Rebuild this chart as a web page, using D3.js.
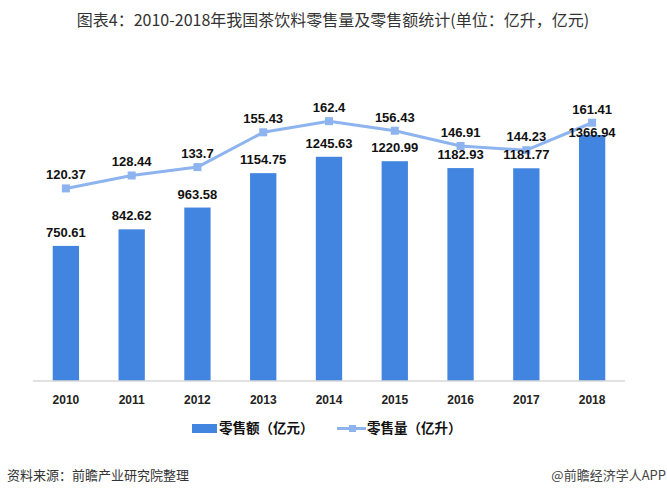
<!DOCTYPE html>
<html>
<head>
<meta charset="utf-8">
<script src="https://cdn.jsdelivr.net/npm/d3@7"></script>
<style>
  html, body { margin: 0; padding: 0; background: #fff; }
  svg { display: block; }
</style>
</head>
<body>
<svg id="chart" width="667" height="496"></svg>
<script>
const years = ["2010","2011","2012","2013","2014","2015","2016","2017","2018"];
const salesValue = [750.61, 842.62, 963.58, 1154.75, 1245.63, 1220.99, 1182.93, 1181.77, 1366.94]; // 零售额（亿元）
const salesVolume = [120.37, 128.44, 133.7, 155.43, 162.4, 156.43, 146.91, 144.23, 161.41]; // 零售量（亿升）
const titleText = "图表4：2010-2018年我国茶饮料零售量及零售额统计(单位：亿升，亿元)";
const legendLabels = ["零售额（亿元）", "零售量（亿升）"];
const sourceText = "资料来源：前瞻产业研究院整理";
const brandText = "@前瞻经济学人APP";

(function () {
const plotL = 33, plotR = 625, plotT = 93, plotB = 381;
const barColor = "#4285e0";
const lineColor = "#8db4ee";
const cjk = "'Microsoft YaHei','Noto Sans CJK SC','Noto Sans',sans-serif";
const num = "Arial,'Liberation Sans',sans-serif";

const svg = d3.select("#chart");

const x = d3.scaleBand().domain(years).range([plotL, plotR]).paddingInner(0.6).paddingOuter(0.3);
const y = d3.scaleLinear().domain([0, 1600]).range([plotB, plotT]);
const y2 = d3.scaleLinear().domain([0, 180]).range([plotB, plotT]);

// title
svg.append("text")
  .attr("x", 333).attr("y", 26)
  .attr("text-anchor", "middle")
  .attr("font-family", cjk).attr("font-size", 16)
  .attr("fill", "#333")
  .text(titleText);

// bars
svg.append("g").selectAll("rect").data(salesValue).join("rect")
  .attr("x", (d, i) => x(years[i]))
  .attr("y", d => y(d))
  .attr("width", x.bandwidth())
  .attr("height", d => plotB - y(d))
  .attr("fill", barColor);

// x axis
const xAxis = svg.append("g").attr("transform", `translate(0,${plotB})`)
  .call(d3.axisBottom(x).tickSize(0).tickPadding(14));
xAxis.select(".domain").attr("stroke", "#d9d9d9").attr("stroke-width", 1.3)
  .attr("d", `M${plotL},0H${plotR}`);
xAxis.selectAll("text")
  .attr("font-family", num).attr("font-size", 12).attr("font-weight", "bold")
  .attr("fill", "#222");

// line
const line = d3.line()
  .x((d, i) => x(years[i]) + x.bandwidth() / 2)
  .y(d => y2(d));
svg.append("path").datum(salesVolume)
  .attr("d", line)
  .attr("fill", "none")
  .attr("stroke", lineColor)
  .attr("stroke-width", 3)
  .attr("stroke-linejoin", "round");

svg.append("g").selectAll("rect").data(salesVolume).join("rect")
  .attr("x", (d, i) => x(years[i]) + x.bandwidth() / 2 - 4)
  .attr("y", d => y2(d) - 4)
  .attr("width", 8).attr("height", 8)
  .attr("fill", lineColor);

// bar labels
svg.append("g").selectAll("text").data(salesValue).join("text")
  .attr("x", (d, i) => x(years[i]) + x.bandwidth() / 2)
  .attr("y", (d, i) => {
    let cy = y(d) - 14;
    if (cy < y2(salesVolume[i]) + 2) cy = y(d) - 3;
    return cy + 5;
  })
  .attr("text-anchor", "middle")
  .attr("font-family", num).attr("font-size", 13).attr("font-weight", "bold")
  .attr("fill", "#111")
  .text(d => d);

// line labels
svg.append("g").selectAll("text").data(salesVolume).join("text")
  .attr("x", (d, i) => x(years[i]) + x.bandwidth() / 2)
  .attr("y", d => y2(d) - 14 + 5)
  .attr("text-anchor", "middle")
  .attr("font-family", num).attr("font-size", 13).attr("font-weight", "bold")
  .attr("fill", "#111")
  .text(d => d);

// legend
const lg = svg.append("g");
lg.append("rect").attr("x", 192).attr("y", 424).attr("width", 25).attr("height", 9).attr("fill", barColor);
lg.append("text").attr("x", 219).attr("y", 433)
  .attr("font-family", cjk).attr("font-size", 13.5).attr("font-weight", "bold").attr("fill", "#111")
  .text(legendLabels[0]);
lg.append("line").attr("x1", 337).attr("x2", 366).attr("y1", 428.5).attr("y2", 428.5)
  .attr("stroke", lineColor).attr("stroke-width", 3);
lg.append("rect").attr("x", 349).attr("y", 425).attr("width", 7).attr("height", 7).attr("fill", lineColor);
lg.append("text").attr("x", 367).attr("y", 433)
  .attr("font-family", cjk).attr("font-size", 13.5).attr("font-weight", "bold").attr("fill", "#111")
  .text(legendLabels[1]);

// footer
svg.append("text").attr("x", 7).attr("y", 480)
  .attr("font-family", cjk).attr("font-size", 13).attr("fill", "#333")
  .text(sourceText);
svg.append("text").attr("x", 666).attr("y", 480)
  .attr("text-anchor", "end")
  .attr("font-family", cjk).attr("font-size", 13).attr("fill", "#444")
  .text(brandText);
})();
</script>
</body>
</html>
